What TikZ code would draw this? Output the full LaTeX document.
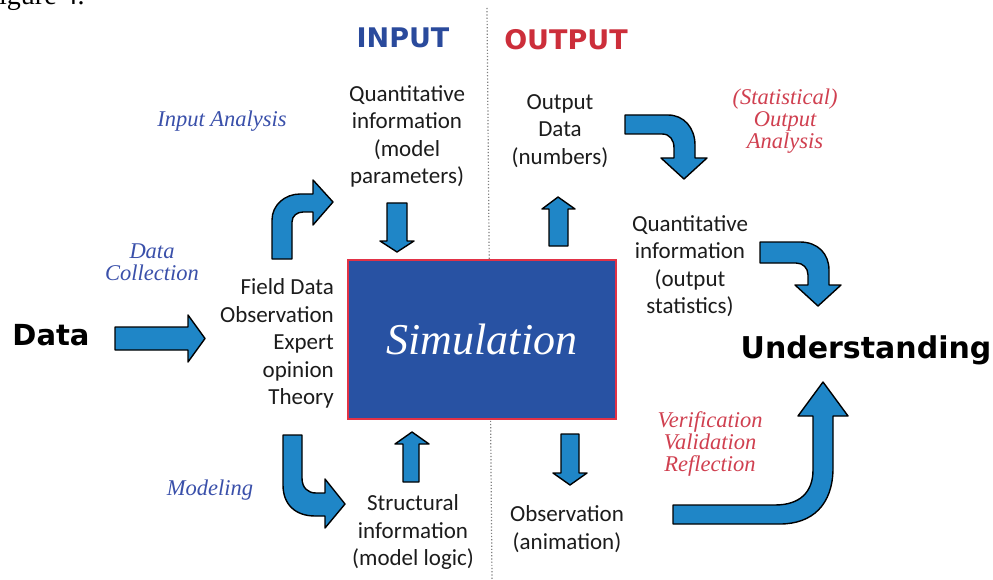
\documentclass[tikz,border=0pt]{standalone}
\usepackage{fontspec}
\setmainfont{Carlito}
\newfontfamily\heavyfont{DejaVu Sans}
\newfontfamily\timesfont{Liberation Serif}
\usetikzlibrary{calc}
\definecolor{arrowblue}{RGB}{31,134,199}
\definecolor{boxblue}{RGB}{40,82,163}
\definecolor{boxred}{RGB}{226,50,70}
\definecolor{inblue}{RGB}{42,74,156}
\definecolor{outred}{RGB}{204,46,58}
\definecolor{lblblue}{RGB}{58,80,170}
\definecolor{lblred}{RGB}{208,64,80}
\definecolor{txtgray}{RGB}{28,28,28}
\tikzset{
  blockarr/.style={fill=arrowblue, draw=black, line width=1.4pt, line join=round},
  bodytext/.style={font=\fontsize{23}{27.5}\selectfont, text=txtgray, align=center, inner sep=0pt},
  heavytext/.style={font=\heavyfont\bfseries\fontsize{29}{32}\selectfont, text=black, inner sep=0pt},
  italblue/.style={font=\timesfont\itshape\fontsize{22.5}{21.5}\selectfont, text=lblblue, align=center, inner sep=0pt},
  italred/.style={font=\timesfont\itshape\fontsize{22.5}{22}\selectfont, text=lblred, align=center, inner sep=0pt},
}
\begin{document}
\begin{tikzpicture}[x=1pt,y=-1pt]
\useasboundingbox (0,0) rectangle (993,580);
\fill[white] (0,0) rectangle (993,580);

% caption fragment (cut off at the top edge, as in the reference)
\node[anchor=base west, inner sep=0pt, font=\timesfont\fontsize{28}{30}\selectfont] (fig) at (-1,5) {igure 4.};

% dotted divider
\coordinate (divtop) at (487,8);
\coordinate (divbot) at (492,580);
\draw[gray, dotted, line width=1.2pt] (divtop) -- (divbot);

% headings
\node[font=\heavyfont\bfseries\fontsize{27}{30}\selectfont, text=inblue, inner sep=0pt] (input) at (403,38) {INPUT};
\node[font=\heavyfont\bfseries\fontsize{27}{30}\selectfont, text=outred, inner sep=0pt] (output) at (566,40) {OUTPUT};

% simulation box
\node[draw=boxred, line width=1.6pt, fill=boxblue, minimum width=268pt, minimum height=159pt, inner sep=0pt,
      font=\timesfont\itshape\fontsize{44}{48}\selectfont, text=white] (sim) at (482,339.5) {Simulation};

% texts
\node[bodytext] (qin) at (407,136.5) {Quantitative\\information\\(model\\parameters)};
\node[bodytext, align=right, anchor=east] (field) at (334,343.5) {Field Data\\Observation\\Expert\\opinion\\Theory};
\node[bodytext] (struct) at (413,532) {Structural\\information\\(model logic)};
\node[bodytext] (odata) at (560,131) {Output\\Data\\(numbers)};
\node[bodytext] (qout) at (690,266) {Quantitative\\information\\(output\\statistics)};
\node[bodytext] (obs) at (567,529) {Observation\\(animation)};

\node[heavytext] (data) at (51,335) {Data};
\node[heavytext, font=\heavyfont\bfseries\fontsize{30}{32}\selectfont] (under) at (866,350) {Understanding};

\node[italblue] (ia) at (222,121) {Input Analysis};
\node[italblue] (dc) at (152,262) {Data\\Collection};
\node[italblue] (mod) at (210,490) {Modeling};
\node[italred] (soa) at (785,121) {(Statistical)\\Output\\Analysis};
\node[italred] (vvr) at (710,444) {Verification\\Validation\\Reflection};

% straight block arrows
\draw[blockarr] (115,327) -- (188,327) -- (188,315) -- (205,338.5) -- (188,362) -- (188,350) -- (115,350) -- cycle;
\draw[blockarr] (387,203) -- (407,203) -- (407,241) -- (414,241) -- (397,252) -- (380,241) -- (387,241) -- cycle;
\draw[blockarr] (403,482) -- (403,444) -- (395,444) -- (412,432) -- (429,444) -- (419,444) -- (419,482) -- cycle;
\draw[blockarr] (549,246) -- (549,209) -- (542,209) -- (558,197) -- (575,209) -- (568,209) -- (568,246) -- cycle;
\draw[blockarr] (561,434) -- (579,434) -- (579,473) -- (587,473) -- (570,485) -- (553,473) -- (561,473) -- cycle;

% curved block arrows
\draw[blockarr] (272,259) -- (272,220) .. controls (272,205) and (285,194) .. (300,194) -- (313,194) -- (313,180)
  -- (333,202) -- (313,225) -- (313,212) -- (303,212) .. controls (297,212) and (292,216) .. (292,222) -- (292,259) -- cycle;
\draw[blockarr] (283,435) -- (302,435) -- (302,478) .. controls (302,488) and (308,493) .. (316,493) -- (325,493) -- (325,479)
  -- (345,504) -- (325,528) -- (325,516) -- (315,516) .. controls (296,516) and (283,505) .. (283,485) -- cycle;
\draw[blockarr] (625,115) -- (668,115) .. controls (684,115) and (695,128) .. (695,145) -- (695,158) -- (707,158)
  -- (684,179) -- (661,158) -- (674,158) -- (674,148) .. controls (674,140) and (670,134) .. (662,134) -- (625,134) -- cycle;
\draw[blockarr] (760,242) -- (800,242) .. controls (818,242) and (829,254) .. (829,270) -- (829,285) -- (841,285)
  -- (818,306) -- (795,285) -- (808,285) -- (808,275) .. controls (808,268) and (803,263) .. (796,263) -- (760,263) -- cycle;
\draw[blockarr] (673,505) -- (775,505) .. controls (800,505) and (813,492) .. (813,470) -- (813,416) -- (798,416)
  -- (823,382) -- (848,416) -- (833,416) -- (833,468) .. controls (833,505) and (812,524) .. (780,524) -- (673,524) -- cycle;
\end{tikzpicture}
\end{document}
